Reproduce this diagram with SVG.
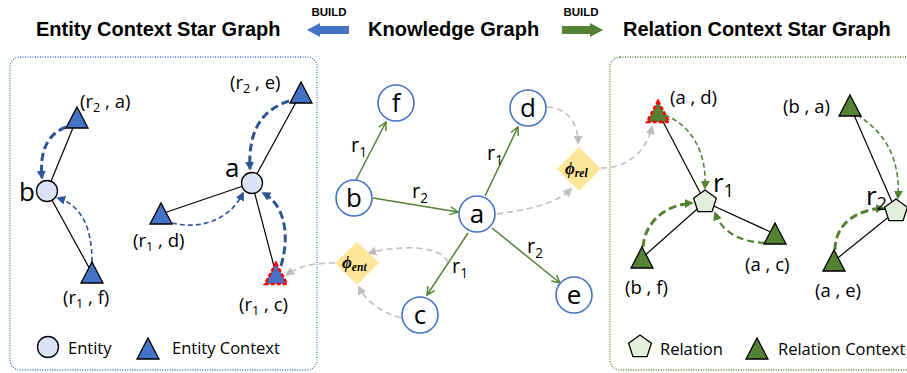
<svg xmlns="http://www.w3.org/2000/svg" xmlns:xlink="http://www.w3.org/1999/xlink" width="907" height="373" viewBox="0 0 907 373">
<style>
.title{font-family:"Liberation Sans",Arial,sans-serif;font-weight:bold;font-size:20px;fill:#000}
.build{font-family:"Liberation Sans",Arial,sans-serif;font-weight:bold;font-size:11.5px;fill:#000}
.lbl{font-family:"Open Sans","Liberation Sans",sans-serif;font-size:18.5px;fill:#000}
.big{font-family:"Open Sans","Liberation Sans",sans-serif;font-size:26px;fill:#000}
.rl{font-family:"Open Sans","Liberation Sans",sans-serif;font-size:20px;fill:#000}
.leg{font-family:"Open Sans","Liberation Sans",sans-serif;font-size:16.5px;fill:#000}
.phi{font-family:"Liberation Serif","DejaVu Serif",serif;font-weight:bold;font-style:italic;font-size:17px;fill:#000}
.sub{font-size:0.68em}
.ent{fill:#DAE3F3;stroke:#000;stroke-width:1.3}
.etri{fill:#4472C4;stroke:#000;stroke-width:1.3}
.rtri{fill:#548235;stroke:#000;stroke-width:1.3}
.rel{fill:#E2F0D9;stroke:#000;stroke-width:1.3}
.red{stroke:#FF0000;stroke-width:2.6;stroke-dasharray:4 2}
.kg{fill:#fff;stroke:#4472C4;stroke-width:1.6}
.link{stroke:#000;stroke-width:1.2;fill:none}
.edge{stroke:#548235;stroke-width:1.5;fill:none;marker-end:url(#chev)}
.gd{stroke:#BFBFBF;stroke-width:1.6;fill:none;stroke-dasharray:6 4;marker-end:url(#agray)}
.bd1{stroke:#2F5597;stroke-width:3;fill:none;stroke-dasharray:8 4;marker-end:url(#ablue)}
.bd2{stroke:#2F5597;stroke-width:1.6;fill:none;stroke-dasharray:5 3;marker-end:url(#ablue)}
.gr1{stroke:#548235;stroke-width:3;fill:none;stroke-dasharray:8 4;marker-end:url(#agreen)}
.gr2{stroke:#548235;stroke-width:1.6;fill:none;stroke-dasharray:5 3;marker-end:url(#agreen)}
.gr3{stroke:#548235;stroke-width:2.2;fill:none;stroke-dasharray:7 4;marker-end:url(#agreen)}
.dia{fill:#FFE699}
</style>
<defs>
<path id="tri" d="M0,-11 L11,10 L-11,10 Z"/>
<path id="pent" d="M0,-12 L11.4,-3.7 L7.05,9.7 L-7.05,9.7 L-11.4,-3.7 Z"/>
<marker id="chev" viewBox="0 0 10 10" refX="9" refY="5" markerWidth="10" markerHeight="10" markerUnits="userSpaceOnUse" orient="auto">
<path d="M1,1 L9,5 L1,9" fill="none" stroke="#548235" stroke-width="1.5"/>
</marker>
<marker id="agray" viewBox="0 0 10 10" refX="8" refY="5" markerWidth="9" markerHeight="9" markerUnits="userSpaceOnUse" orient="auto">
<path d="M0,0 L10,5 L0,10 Z" fill="#BFBFBF"/>
</marker>
<marker id="ablue" viewBox="0 0 10 10" refX="8" refY="5" markerWidth="9" markerHeight="9" markerUnits="userSpaceOnUse" orient="auto">
<path d="M0,0 L10,5 L0,10 Z" fill="#2F5597"/>
</marker>
<marker id="agreen" viewBox="0 0 10 10" refX="8" refY="5" markerWidth="9" markerHeight="9" markerUnits="userSpaceOnUse" orient="auto">
<path d="M0,0 L10,5 L0,10 Z" fill="#548235"/>
</marker>
</defs>

<g id="header">
<text class="title" x="36" y="36">Entity Context Star Graph</text>
<text class="title" x="368" y="36">Knowledge Graph</text>
<text class="title" x="623" y="36">Relation Context Star Graph</text>
<text class="build" x="329" y="16" text-anchor="middle">BUILD</text>
<text class="build" x="581" y="16" text-anchor="middle">BUILD</text>
<polygon points="307,30 320,23 320,26 349,26 349,34 320,34 320,37" fill="#4472C4"/>
<polygon points="603,30 590,23 590,26 562,26 562,34 590,34 590,37" fill="#548235"/>
</g>

<g id="panels">
<rect x="10" y="57" width="307" height="313" rx="10" fill="none" stroke="#4472C4" stroke-width="1.3" stroke-dasharray="1 1.5"/>
<rect x="610" y="57" width="310" height="313" rx="10" fill="none" stroke="#548235" stroke-width="1.3" stroke-dasharray="1 1.5"/>
</g>

<g id="connectors">
<line class="link" x1="77" y1="118" x2="47" y2="191"/>
<line class="link" x1="92" y1="273" x2="47" y2="191"/>
<line class="link" x1="301" y1="93" x2="252" y2="183"/>
<line class="link" x1="161" y1="214" x2="252" y2="183"/>
<line class="link" x1="276" y1="274" x2="252" y2="183"/>
<line class="link" x1="658" y1="112" x2="705" y2="202"/>
<line class="link" x1="642" y1="258" x2="705" y2="202"/>
<line class="link" x1="775" y1="234" x2="705" y2="202"/>
<line class="link" x1="850" y1="106" x2="896" y2="211"/>
<line class="link" x1="834" y1="261" x2="896" y2="211"/>
<path class="edge" d="M356,180 L386,122"/>
<path class="edge" d="M373,198 L458,212"/>
<path class="edge" d="M485,196 L518,127"/>
<path class="edge" d="M468,233 L427,295"/>
<path class="edge" d="M492,228 L560,283"/>
<path class="gd" d="M547,107 C565,108 578,120 578,143"/>
<path class="gd" d="M497,214 C525,210 555,205 571,189"/>
<path class="gd" d="M601,168 C625,168 645,155 652,127"/>
<path class="gd" d="M401,318 C380,312 365,300 359,287"/>
<path class="gd" d="M448,262 C440,245 400,245 369,253"/>
<path class="gd" d="M335,263 C315,263 300,265 287,275"/>
<path class="bd1" d="M66,127 Q38,138 42,178"/>
<path class="bd2" d="M92,262 C92,225 80,205 58,198"/>
<path class="bd1" d="M289,101 C262,110 248,130 250,169"/>
<path class="bd2" d="M172,223 C200,230 230,220 243,193"/>
<path class="bd1" d="M281,266 C290,235 285,205 263,193"/>
<path class="gr2" d="M665,115 C690,125 707,150 705,188"/>
<path class="gr1" d="M643,247 C645,222 665,205 692,203"/>
<path class="gr3" d="M765,243 C740,242 722,232 715,213"/>
<path class="gr2" d="M857,115 C890,135 900,165 898,198"/>
<path class="gr1" d="M835,250 C835,225 855,210 883,208"/>
</g>

<g id="node-b-left"><circle class="ent" cx="47" cy="191" r="10.5"/><text class="big" x="19" y="201" font-size="27">b</text></g>
<g id="node-a-left"><circle class="ent" cx="252" cy="183" r="10.5"/><text class="big" x="225" y="177" font-size="24">a</text></g>
<g id="ctx-r2-a"><use href="#tri" class="etri" transform="translate(77,118)"/><text class="lbl" x="80" y="108">(r<tspan class="sub" dy="4">2</tspan><tspan dy="-4"> , a)</tspan></text></g>
<g id="ctx-r1-f"><use href="#tri" class="etri" transform="translate(92,273)"/><text class="lbl" x="63" y="304">(r<tspan class="sub" dy="4">1</tspan><tspan dy="-4"> , f)</tspan></text></g>
<g id="ctx-r2-e"><use href="#tri" class="etri" transform="translate(301,93)"/><text class="lbl" x="230" y="89">(r<tspan class="sub" dy="4">2</tspan><tspan dy="-4"> , e)</tspan></text></g>
<g id="ctx-r1-d"><use href="#tri" class="etri" transform="translate(161,214)"/><text class="lbl" x="133" y="247">(r<tspan class="sub" dy="4">1</tspan><tspan dy="-4"> , d)</tspan></text></g>
<g id="ctx-r1-c"><use href="#tri" class="etri red" transform="translate(276,274)"/><text class="lbl" x="239" y="311">(r<tspan class="sub" dy="4">1</tspan><tspan dy="-4"> , c)</tspan></text></g>

<g id="legend-left">
<circle class="ent" cx="48" cy="347" r="10.5"/><text class="leg" x="68" y="354">Entity</text>
<use href="#tri" class="etri" transform="translate(148,349)"/><text class="leg" x="172" y="354">Entity Context</text>
</g>

<g id="kg-f"><circle class="kg" cx="396" cy="103" r="18"/><text class="big" x="396" y="112" text-anchor="middle">f</text></g>
<g id="kg-d"><circle class="kg" cx="528" cy="108" r="18"/><text class="big" x="528" y="117" text-anchor="middle">d</text></g>
<g id="kg-b"><circle class="kg" cx="354" cy="198" r="18"/><text class="big" x="354" y="207" text-anchor="middle">b</text></g>
<g id="kg-a"><circle class="kg" cx="477" cy="214" r="18"/><text class="big" x="477" y="223" text-anchor="middle">a</text></g>
<g id="kg-c"><circle class="kg" cx="420" cy="315" r="18"/><text class="big" x="420" y="324" text-anchor="middle">c</text></g>
<g id="kg-e"><circle class="kg" cx="574" cy="295" r="18"/><text class="big" x="574" y="304" text-anchor="middle">e</text></g>

<g id="edge-labels">
<text class="rl" x="351" y="152">r<tspan class="sub" dy="5">1</tspan></text>
<text class="rl" x="412" y="198">r<tspan class="sub" dy="5">2</tspan></text>
<text class="rl" x="487" y="160">r<tspan class="sub" dy="5">1</tspan></text>
<text class="rl" x="452" y="273">r<tspan class="sub" dy="5">1</tspan></text>
<text class="rl" x="527" y="253">r<tspan class="sub" dy="5">2</tspan></text>
</g>

<g id="phi-rel"><polygon class="dia" points="579,147 601,169 579,191 557,169"/><text class="phi" x="565" y="174">ϕ<tspan class="sub" dy="3">rel</tspan></text></g>
<g id="phi-ent"><polygon class="dia" points="357,242 379,263 357,285 335,263"/><text class="phi" x="342" y="268">ϕ<tspan class="sub" dy="3">ent</tspan></text></g>

<g id="rel-r1"><use href="#pent" class="rel" transform="translate(705,202)"/><text class="big" x="713" y="192" font-size="24">r<tspan class="sub" dy="5">1</tspan></text></g>
<g id="rel-r2"><use href="#pent" class="rel" transform="translate(896,211)"/><text class="big" x="866" y="205" font-size="24">r<tspan class="sub" dy="5">2</tspan></text></g>
<g id="rctx-a-d"><use href="#tri" class="rtri red" transform="translate(658,112)"/><text class="lbl" x="670" y="104">(a , d)</text></g>
<g id="rctx-b-f"><use href="#tri" class="rtri" transform="translate(642,258)"/><text class="lbl" x="625" y="294">(b , f)</text></g>
<g id="rctx-a-c"><use href="#tri" class="rtri" transform="translate(775,234)"/><text class="lbl" x="745" y="271">(a , c)</text></g>
<g id="rctx-b-a"><use href="#tri" class="rtri" transform="translate(850,106)"/><text class="lbl" x="783" y="113">(b , a)</text></g>
<g id="rctx-a-e"><use href="#tri" class="rtri" transform="translate(834,261)"/><text class="lbl" x="815" y="297">(a , e)</text></g>

<g id="legend-right">
<use href="#pent" class="rel" transform="translate(640,347)"/><text class="leg" x="660" y="355">Relation</text>
<use href="#tri" class="rtri" transform="translate(757,349)"/><text class="leg" x="778" y="355">Relation Context</text>
</g>
</svg>
